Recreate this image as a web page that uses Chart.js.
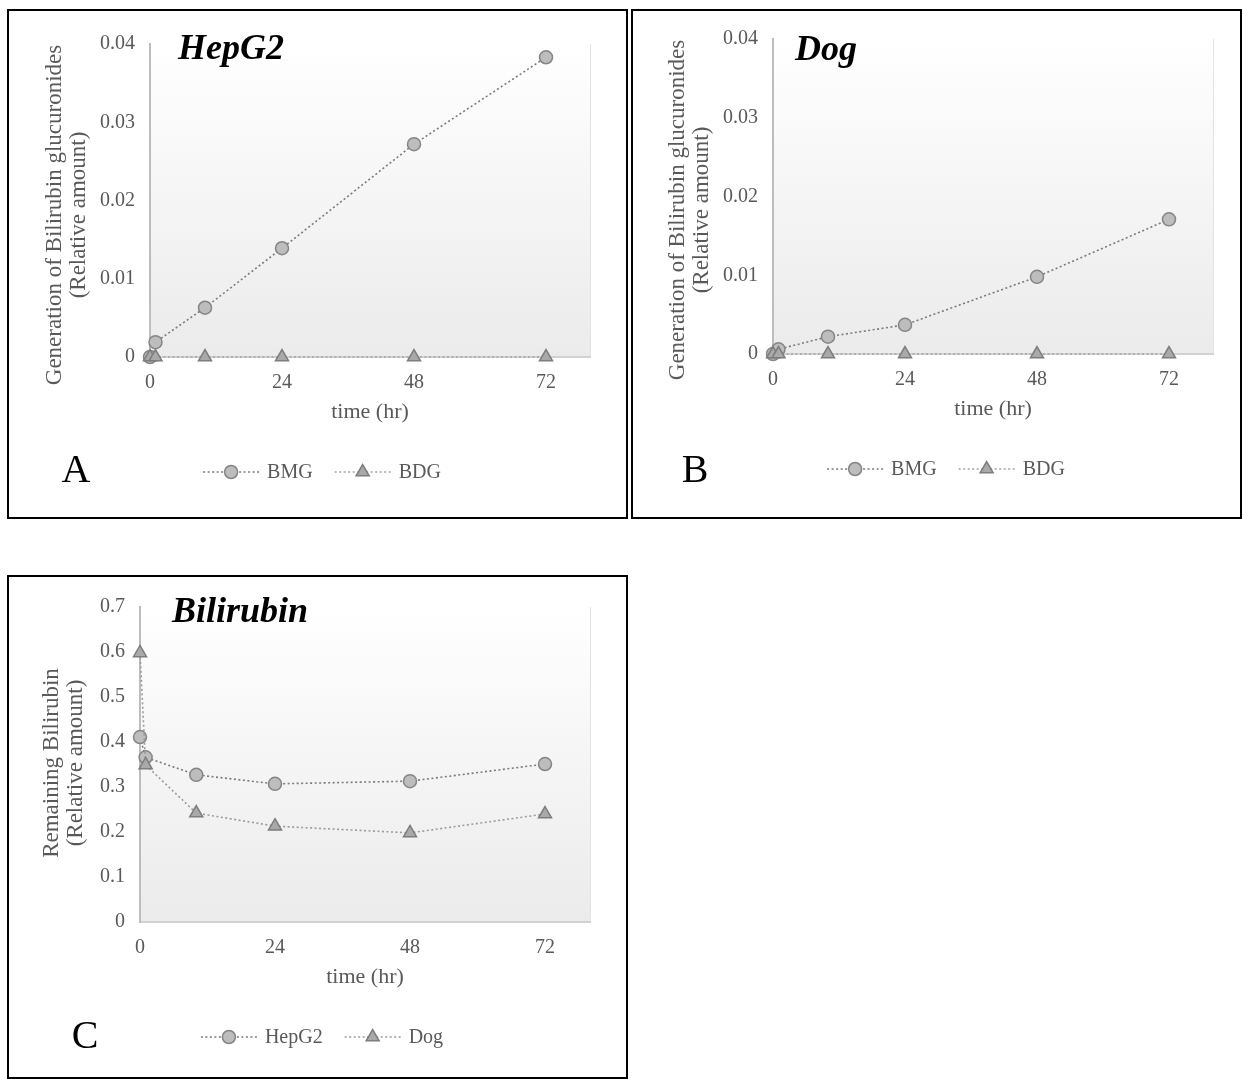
<!DOCTYPE html>
<html>
<head>
<meta charset="utf-8">
<script src="https://cdn.jsdelivr.net/npm/chart.js@4.4.1/dist/chart.umd.min.js"></script>
<style>
html, body { margin: 0; padding: 0; background: #fff; }
body { width: 1242px; height: 1079px; position: relative; overflow: hidden; }
.panel { position: absolute; border: 2px solid #000; box-sizing: content-box; background: #fff; }
.panel canvas { display: block; }
</style>
</head>
<body>
<div class="panel" style="left:7px;top:9px;width:617px;height:506px"><canvas id="cA" width="617" height="506" style="width:617px;height:506px"></canvas></div>
<div class="panel" style="left:631px;top:9px;width:607px;height:506px"><canvas id="cB" width="607" height="506" style="width:607px;height:506px"></canvas></div>
<div class="panel" style="left:7px;top:575px;width:617px;height:500px"><canvas id="cC" width="617" height="500" style="width:617px;height:500px"></canvas></div>
<script>
// ---------- data ----------
const timeHours = [0, 1, 10, 24, 48, 72];
const xTickHours = [0, 24, 48, 72];

const hepg2BMG = [0, 0.0019, 0.0063, 0.0139, 0.0272, 0.0383];
const hepg2BDG = [0, 0, 0, 0, 0, 0];
const dogBMG = [0, 0.0006, 0.0022, 0.0037, 0.0098, 0.0171];
const dogBDG = [0, 0, 0, 0, 0, 0];
const remainingHepG2 = [0.411, 0.366, 0.327, 0.307, 0.313, 0.351];
const remainingDog = [0.598, 0.349, 0.242, 0.213, 0.198, 0.240];

const yTicksGluc = [0, 0.01, 0.02, 0.03, 0.04];
const yTicksBili = [0, 0.1, 0.2, 0.3, 0.4, 0.5, 0.6, 0.7];

const glucSeriesNames = ['BMG', 'BDG'];
const biliSeriesNames = ['HepG2', 'Dog'];
const panelTitles = ['HepG2', 'Dog', 'Bilirubin'];
const panelLetters = ['A', 'B', 'C'];
const xAxisTitle = 'time (hr)';
const yTitleGluc = ['Generation of Bilirubin glucuronides', '(Relative amount)'];
const yTitleBili = ['Remaining Bilirubin', '(Relative amount)'];

// ---------- styles ----------
const FONT = '"Liberation Serif", "Times New Roman", Times, serif';
const TEXT_GREY = '#595959';

const circleStyle = {
  pointStyle: 'circle', pointRadius: 6.5, pointBorderWidth: 1.5,
  pointBackgroundColor: '#bdbdbd', pointBorderColor: '#858585',
  borderColor: '#7a7a7a', borderWidth: 1.6, borderDash: [2, 2.5]
};
const triangleStyle = {
  pointStyle: 'triangle', pointRadius: 7.5, pointBorderWidth: 1.5,
  pointBackgroundColor: '#a9a9a9', pointBorderColor: '#7d7d7d',
  borderColor: '#a3a3a3', borderWidth: 1.6, borderDash: [2, 2.5]
};

// plot background gradient + right edge
const bgPlugin = {
  id: 'plotBg',
  beforeDraw(chart) {
    const {ctx, chartArea: a} = chart;
    ctx.save();
    const g = ctx.createLinearGradient(0, a.top, 0, a.bottom);
    g.addColorStop(0, '#ffffff');
    g.addColorStop(1, '#ebebeb');
    ctx.fillStyle = g;
    ctx.fillRect(a.left, a.top - 4, a.right - a.left, a.bottom - a.top + 4);
    ctx.strokeStyle = '#e3e3e3';
    ctx.lineWidth = 1;
    ctx.beginPath();
    ctx.moveTo(a.right + 0.5, a.top);
    ctx.lineTo(a.right + 0.5, a.bottom);
    ctx.stroke();
    ctx.restore();
  }
};

function drawMarker(ctx, ds, x, y) {
  ctx.save();
  ctx.fillStyle = ds.pointBackgroundColor;
  ctx.strokeStyle = ds.pointBorderColor;
  ctx.lineWidth = ds.pointBorderWidth;
  ctx.setLineDash([]);
  Chart.helpers.drawPoint(ctx, {pointStyle: ds.pointStyle, radius: ds.pointRadius, rotation: 0, borderWidth: ds.pointBorderWidth}, x, y);
  ctx.restore();
}

// y-axis title, chart title, panel letter and legend
const decorPlugin = {
  id: 'panelDecor',
  afterDraw(chart, args, o) {
    const ctx = chart.ctx;
    ctx.save();
    // y-axis title (two rotated lines)
    ctx.fillStyle = TEXT_GREY;
    ctx.font = '23px ' + FONT;
    ctx.textAlign = 'center';
    ctx.textBaseline = 'middle';
    o.yTitle.forEach((line, i) => {
      ctx.save();
      ctx.translate(o.yTitleX + i * 23.5, o.yTitleCY);
      ctx.rotate(-Math.PI / 2);
      ctx.fillText(line, 0, 0);
      ctx.restore();
    });
    // title inside plot
    ctx.fillStyle = '#000';
    ctx.font = 'italic bold 36px ' + FONT;
    ctx.textAlign = 'left';
    ctx.textBaseline = 'alphabetic';
    ctx.fillText(o.title, o.titleX, o.titleY);
    // panel letter
    ctx.font = '40px ' + FONT;
    ctx.textAlign = 'center';
    ctx.fillText(o.letter, o.letterX, o.letterY);
    // legend
    ctx.font = '20px ' + FONT;
    ctx.textAlign = 'left';
    ctx.textBaseline = 'middle';
    const dss = chart.data.datasets;
    const symW = 56, gap = 8, itemGap = 22;
    const widths = dss.map(d => ctx.measureText(d.label).width);
    const total = widths.reduce((s, w) => s + symW + gap + w, 0) + itemGap * (dss.length - 1);
    let x = o.legendCX - total / 2;
    const y = o.legendY;
    dss.forEach((ds, i) => {
      ctx.strokeStyle = ds.borderColor;
      ctx.lineWidth = ds.borderWidth;
      ctx.setLineDash(ds.borderDash);
      ctx.beginPath();
      ctx.moveTo(x, y);
      ctx.lineTo(x + symW, y);
      ctx.stroke();
      drawMarker(ctx, ds, x + symW / 2, y);
      ctx.fillStyle = TEXT_GREY;
      ctx.fillText(ds.label, x + symW + gap, y + 1);
      x += symW + gap + widths[i] + itemGap;
    });
    ctx.restore();
  }
};

function build(canvasId, p) {
  const datasets = p.series.map((s, i) => Object.assign({
    label: s.name,
    data: timeHours.map((t, k) => ({x: t, y: s.values[k]})),
    tension: 0,
    clip: false,
    order: p.series.length - i
  }, s.style));
  return new Chart(document.getElementById(canvasId), {
    type: 'line',
    data: {datasets},
    plugins: [bgPlugin, decorPlugin],
    options: {
      responsive: false,
      animation: false,
      events: [],
      layout: {padding: {left: 0, top: p.padTop, right: p.padRight, bottom: p.padBottom}},
      plugins: {
        legend: {display: false},
        tooltip: {enabled: false},
        panelDecor: p.decor
      },
      scales: {
        x: {
          type: 'linear', min: 0, max: 80,
          afterBuildTicks: s => { s.ticks = xTickHours.map(v => ({value: v})); },
          afterFit: s => { s.height = 68; },
          grid: {display: false, drawTicks: false},
          border: {display: true, color: '#d2d2d2', width: 2},
          ticks: {color: TEXT_GREY, font: {size: 20, family: FONT}, padding: 14, maxRotation: 0, autoSkip: false,
                  callback: v => String(v)},
          title: {display: true, text: xAxisTitle, color: TEXT_GREY, font: {size: 22, family: FONT}, padding: {top: 0, bottom: 0}}
        },
        y: {
          type: 'linear', min: 0, max: p.yTicks[p.yTicks.length - 1],
          afterBuildTicks: s => { s.ticks = p.yTicks.map(v => ({value: v})); },
          afterFit: s => { s.width = p.yWidth; },
          grid: {display: false, drawTicks: false},
          border: {display: true, color: '#bdbdbd', width: 2},
          ticks: {color: TEXT_GREY, font: {size: 20, family: FONT}, padding: 15, autoSkip: false,
                  callback: v => String(v)},
          title: {display: false}
        }
      }
    }
  });
}

function start() {
  Chart.defaults.font.family = FONT;
  build('cA', {
    series: [
      {name: glucSeriesNames[0], values: hepg2BMG, style: circleStyle},
      {name: glucSeriesNames[1], values: hepg2BDG, style: triangleStyle}
    ],
    yTicks: yTicksGluc,
    padTop: 33, padRight: 36, padBottom: 92, yWidth: 141,
    decor: {yTitle: yTitleGluc, yTitleX: 46, yTitleCY: 204,
            title: panelTitles[0], titleX: 169, titleY: 48, letter: panelLetters[0], letterX: 67, letterY: 471, legendCX: 313, legendY: 461}
  });
  build('cB', {
    series: [
      {name: glucSeriesNames[0], values: dogBMG, style: circleStyle},
      {name: glucSeriesNames[1], values: dogBDG, style: triangleStyle}
    ],
    yTicks: yTicksGluc,
    padTop: 28, padRight: 27, padBottom: 95, yWidth: 140,
    decor: {yTitle: yTitleGluc, yTitleX: 45, yTitleCY: 199,
            title: panelTitles[1], titleX: 162, titleY: 49, letter: panelLetters[1], letterX: 62, letterY: 471, legendCX: 313, legendY: 458}
  });
  build('cC', {
    series: [
      {name: biliSeriesNames[0], values: remainingHepG2, style: circleStyle},
      {name: biliSeriesNames[1], values: remainingDog, style: Object.assign({}, triangleStyle, {borderColor: '#9a9a9a'})}
    ],
    yTicks: yTicksBili,
    padTop: 30, padRight: 36, padBottom: 87, yWidth: 131,
    decor: {yTitle: yTitleBili, yTitleX: 43, yTitleCY: 186,
            title: panelTitles[2], titleX: 163, titleY: 45, letter: panelLetters[2], letterX: 76, letterY: 471, legendCX: 313, legendY: 460}
  });
}

if (document.fonts && document.fonts.load) {
  Promise.all([
    document.fonts.load('20px "Liberation Serif"'),
    document.fonts.load('italic bold 36px "Liberation Serif"')
  ]).then(start, start);
} else {
  start();
}
</script>
</body>
</html>
